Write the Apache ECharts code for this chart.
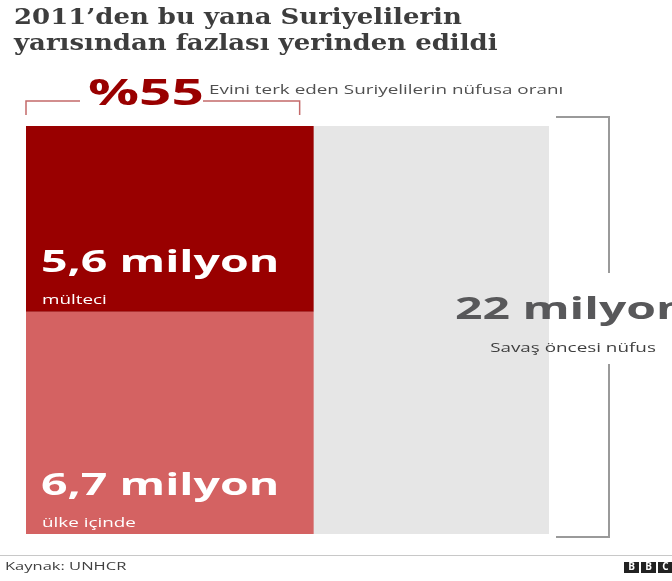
<!DOCTYPE html>
<html>
<head>
<meta charset="utf-8">
<script src="https://cdn.jsdelivr.net/npm/echarts@6/dist/echarts.min.js"></script>
<style>
  html, body { margin: 0; padding: 0; background: #fff; }
  #chart { width: 672px; height: 581px; }
</style>
</head>
<body>
<div id="chart"></div>
<script>
// ---- data ----
const categories = ['mülteci', 'ülke içinde'];      // displaced groups
const values = [5.6, 6.7];                            // milyon
const totalPopulation = 22;                           // milyon, pre-war
const totalLabel = 'Savaş öncesi nüfus';
const displacedShare = 55;                            // %
const shareLabel = 'Evini terk eden Suriyelilerin nüfusa oranı';
const titleLines = ['2011’den bu yana Suriyelilerin', 'yarısından fazlası yerinden edildi'];
const sourceLabel = 'Kaynak: UNHCR';

const displacedSum = values.reduce((a, b) => a + b, 0);
const segColors = ['#990000', '#d46262'];
const SANS = 'Open Sans';
const SX = 1.45;   // horizontal stretch of small text
const SXB = 1.55;  // horizontal stretch of big bold text

// stacked segments: bottom is last category
const segData = [];
let acc = 0;
for (let i = values.length - 1; i >= 0; i--) {
  segData.push([i, acc, acc + values[i]]);
  acc += values[i];
}
const fmt = v => String(v).replace('.', ',');

function txt(x, y, sx, style) {
  return { type: 'text', x: x, y: y, scaleX: sx, style: Object.assign({ x: 0, y: 0, verticalAlign: 'middle', align: 'left' }, style) };
}

const chart = echarts.init(document.getElementById('chart'), null, { renderer: 'canvas' });
chart.setOption({
  animation: false,
  backgroundColor: '#fff',
  grid: { left: 26, right: 123, top: 126, bottom: 47 },
  xAxis: { type: 'value', min: 0, max: totalPopulation, show: false },
  yAxis: { type: 'value', min: 0, max: displacedSum, show: false },
  series: [
    {
      type: 'custom',
      name: 'total',
      data: [[totalPopulation]],
      renderItem: function (params, api) {
        const tl = api.coord([0, displacedSum]);
        const br = api.coord([api.value(0), 0]);
        const bx = br[0] + 60;
        const midY = (tl[1] + br[1]) / 2;
        const line = { stroke: '#9a9a9a', lineWidth: 2, fill: null };
        return {
          type: 'group',
          children: [
            { type: 'rect', shape: { x: tl[0], y: tl[1], width: br[0] - tl[0], height: br[1] - tl[1] }, style: { fill: '#e6e6e6' } },
            { type: 'polyline', shape: { points: [[br[0] + 7, tl[1] - 9], [bx, tl[1] - 9], [bx, midY - 57]] }, style: line },
            { type: 'polyline', shape: { points: [[bx, midY + 34], [bx, br[1] + 3], [br[0] + 7, br[1] + 3]] }, style: line },
            txt(br[0] - 94, midY - 20, SXB, { text: api.value(0) + ' milyon', fill: '#58585a', fontFamily: SANS, fontWeight: 'bold', fontSize: 31 }),
            txt(bx - 36, midY + 18, SX, { text: totalLabel, align: 'center', fill: '#404040', fontFamily: SANS, fontSize: 13 })
          ]
        };
      }
    },
    {
      type: 'custom',
      name: 'displaced',
      data: segData,
      renderItem: function (params, api) {
        const idx = api.value(0);
        const x1 = totalPopulation * displacedShare / 100;
        const tl = api.coord([0, api.value(2)]);
        const br = api.coord([x1, api.value(1)]);
        return {
          type: 'group',
          children: [
            { type: 'rect', shape: { x: tl[0], y: tl[1], width: br[0] - tl[0], height: br[1] - tl[1] }, style: { fill: segColors[idx] } },
            txt(tl[0] + 15, br[1] - 48, SXB, { text: fmt(values[idx]) + ' milyon', fill: '#fff', fontFamily: SANS, fontWeight: 'bold', fontSize: 30 }),
            txt(tl[0] + 16, br[1] - 11, SX, { text: categories[idx], fill: '#fff', fontFamily: SANS, fontSize: 13 })
          ]
        };
      }
    },
    {
      type: 'custom',
      name: 'share',
      data: [[displacedShare]],
      renderItem: function (params, api) {
        const x1 = totalPopulation * api.value(0) / 100;
        const tl = api.coord([0, displacedSum]);
        const tr = api.coord([x1, displacedSum]);
        const y0 = tl[1] - 25, y1 = tl[1] - 11;
        const line = { stroke: '#c46a6a', lineWidth: 1.5, fill: null };
        return {
          type: 'group',
          children: [
            { type: 'polyline', shape: { points: [[tl[0], y1], [tl[0], y0], [tl[0] + 54, y0]] }, style: line },
            { type: 'polyline', shape: { points: [[tl[0] + 177, y0], [tr[0] - 14, y0], [tr[0] - 14, y1]] }, style: line },
            txt(tl[0] + 62, tl[1] - 31, 1.62, { text: '%' + api.value(0), fill: '#990000', fontFamily: SANS, fontWeight: 'bold', fontSize: 35 }),
            txt(tl[0] + 183, tl[1] - 36, SX, { text: shareLabel, fill: '#505050', fontFamily: SANS, fontSize: 13 })
          ]
        };
      }
    }
  ],
  graphic: [
    txt(14, 18, 1.18, { text: titleLines[0], fill: '#3d3d3d', fontFamily: 'DejaVu Serif', fontWeight: 'bold', fontSize: 22 }),
    txt(14, 44, 1.18, { text: titleLines[1], fill: '#3d3d3d', fontFamily: 'DejaVu Serif', fontWeight: 'bold', fontSize: 22 }),
    { type: 'rect', shape: { x: 0, y: 555, width: 672, height: 1 }, style: { fill: '#c8c8c8' } },
    txt(5, 567, 1.5, { text: sourceLabel, fill: '#404040', fontFamily: SANS, fontSize: 11 }),
    { type: 'group', children: ['B', 'B', 'C'].flatMap((ch, i) => [
      { type: 'rect', shape: { x: 624 + i * 17, y: 562, width: 15, height: 11 }, style: { fill: '#222' } },
      { type: 'text', style: { text: ch, x: 624 + i * 17 + 7.5, y: 567.5, align: 'center', verticalAlign: 'middle', fill: '#fff', fontFamily: SANS, fontWeight: 'bold', fontSize: 10 } }
    ]) }
  ]
});
</script>
</body>
</html>
